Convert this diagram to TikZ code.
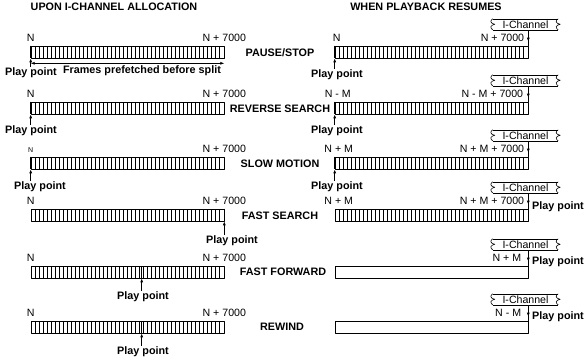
\documentclass[tikz,border=0pt]{standalone}
\usepackage{fontspec}
\setmainfont{Liberation Sans}
\usetikzlibrary{arrows.meta,calc}

\tikzset{
  lbl/.style={font=\fontsize{10.6}{12}\selectfont, inner sep=1pt},
  bold/.style={font=\bfseries\fontsize{10.8}{12}\selectfont, inner sep=1pt},
  buffer/.style={draw, line width=0.6pt, minimum width=193pt, minimum height=12pt, inner sep=0pt},
  hatched/.style={buffer, path picture={
      \foreach \i in {4,8,...,190}
        \draw[line width=0.9pt] ([xshift=\i pt]path picture bounding box.south west)
          -- ([xshift=\i pt]path picture bounding box.north west);}},
  chan/.style={lbl, minimum width=65pt, minimum height=11pt, inner sep=0pt},
  pp/.style={line width=0.8pt, -{Latex[length=4pt,width=3pt]}},
  thickedge/.style={line width=1.3pt},
}
% wavy end of an I-Channel frame, drawn downwards from the current point
\newcommand{\wavyend}{%
  to[out=-150,in=90] ++(-2pt,-3pt) to[out=-90,in=150] ++(4pt,-2.5pt)
  to[out=-150,in=90] ++(-4pt,-2.5pt) to[out=-90,in=150] ++(2pt,-3pt)}
% frame with wavy ends round an I-Channel node
\newcommand{\chanframe}[1]{%
  \draw[line width=0.6pt] (#1.south west) -- (#1.south east);
  \draw[line width=0.6pt] (#1.north west) -- (#1.north east);
  \draw[line width=0.6pt] (#1.north east) \wavyend;
  \draw[line width=0.6pt] (#1.north west) \wavyend;}

\begin{document}
\begin{tikzpicture}[x=1pt,y=-1pt,line join=round]
\useasboundingbox (0,0) rectangle (584,364);

% headings
\node[bold] (hl) at (114,7) {UPON I-CHANNEL ALLOCATION};
\node[bold] (hr) at (426,7) {WHEN PLAYBACK RESUMES};

% row 1: pause/stop
\node[hatched] (bl1) at (127.5,52) {};
\node[lbl,above=3pt] (nl1) at (bl1.north west) {N};
\node[lbl,above=3pt] (el1) at (bl1.north east) {N + 7000};
\draw[thickedge] (bl1.north west) -- (bl1.south west);
\node[bold] (ppl1) at (31,73) {Play point};
\draw[pp] (ppl1.north -| bl1.south west) -- (bl1.south west);
\coordinate (fa) at ([yshift=-5pt]bl1.south west);
\coordinate (fb) at ([yshift=-5pt]bl1.south east);
\draw[line width=0.6pt,{Latex[length=4pt,width=3pt]}-{Latex[length=4pt,width=3pt]}] (fa) -- (fb);
\node[bold] (fr1) at (142,71) {Frames prefetched before split};
\node[bold] (op1) at (280,53) {PAUSE/STOP};
\node[hatched] (br1) at (431.5,52) {};
\node[lbl,above=3pt] (nr1) at ([xshift=2pt]br1.north west) {N};
\node[lbl,anchor=south east] (er1) at ([xshift=-3pt,yshift=3pt]br1.north east) {N + 7000};
\draw[thickedge] (br1.north west) -- (br1.south west);
\node[chan] (ch1) at (525.5,24.5) {I-Channel};
\chanframe{ch1}
\draw[line width=0.8pt] (ch1.south -| br1.north east) -- (br1.north east);
\draw[pp] (ch1.south -| br1.north east) -- ([yshift=4pt]br1.north east);
\node[bold] (ppr1) at (337,75) {Play point};
\draw[pp] (ppr1.north -| br1.south west) -- (br1.south west);

% row 2: reverse search
\node[hatched] (bl2) at (127.5,108) {};
\node[lbl,above=3pt] (nl2) at (bl2.north west) {N};
\node[lbl,above=3pt] (el2) at (bl2.north east) {N + 7000};
\draw[thickedge] (bl2.north west) -- (bl2.south west);
\node[bold] (ppl2) at (31,131) {Play point};
\draw[pp] (ppl2.north -| bl2.south west) -- (bl2.south west);
\node[bold] (op2) at (280,109) {REVERSE SEARCH};
\node[hatched] (br2) at (431.5,108) {};
\node[lbl,above=3pt] (nr2) at ([xshift=3pt]br2.north west) {N - M};
\node[lbl,anchor=south east] (er2) at ([xshift=-4pt,yshift=3pt]br2.north east) {N - M + 7000};
\draw[thickedge] (br2.north west) -- (br2.south west);
\node[chan] (ch2) at (525.5,80.5) {I-Channel};
\chanframe{ch2}
\draw[line width=0.8pt] (ch2.south -| br2.north east) -- (br2.north east);
\draw[pp] (ch2.south -| br2.north east) -- ([yshift=4pt]br2.north east);
\node[bold] (ppr2) at (337,131) {Play point};
\draw[pp] (ppr2.north -| br2.south west) -- (br2.south west);

% row 3: slow motion
\node[hatched] (bl3) at (127.5,163) {};
\node[lbl,above=3pt,font=\fontsize{7}{8}\selectfont] (nl3) at (bl3.north west) {N};
\node[lbl,above=3pt] (el3) at (bl3.north east) {N + 7000};
\draw[thickedge] (bl3.north west) -- (bl3.south west);
\node[bold] (ppl3) at (40,187) {Play point};
\draw[pp] (ppl3.north -| bl3.south west) -- (bl3.south west);
\node[bold] (op3) at (280,164) {SLOW MOTION};
\node[hatched] (br3) at (431.5,163) {};
\node[lbl,above=3pt] (nr3) at ([xshift=4pt]br3.north west) {N + M};
\node[lbl,anchor=south east] (er3) at ([xshift=-3pt,yshift=3pt]br3.north east) {N + M + 7000};
\draw[thickedge] (br3.north west) -- (br3.south west);
\node[chan] (ch3) at (525.5,135.5) {I-Channel};
\chanframe{ch3}
\draw[line width=0.8pt] (ch3.south -| br3.north east) -- (br3.north east);
\draw[pp] (ch3.south -| br3.north east) -- ([yshift=4pt]br3.north east);
\node[bold] (ppr3) at (337,187) {Play point};
\draw[pp] (ppr3.north -| br3.south west) -- (br3.south west);

% row 4: fast search
\node[hatched] (bl4) at (127.5,215) {};
\node[lbl,above=3pt] (nl4) at (bl4.north west) {N};
\node[lbl,above=3pt] (el4) at (bl4.north east) {N + 7000};
\draw[thickedge] (bl4.north east) -- (bl4.south east);
\node[bold] (ppl4) at (232,241) {Play point};
\draw[pp] (ppl4.north -| bl4.south east) -- (bl4.south east);
\node[bold] (op4) at (280,216) {FAST SEARCH};
\node[hatched] (br4) at (431.5,215) {};
\node[lbl,above=3pt] (nr4) at ([xshift=4pt]br4.north west) {N + M};
\node[lbl,anchor=south east] (er4) at ([xshift=-3pt,yshift=3pt]br4.north east) {N + M + 7000};
\draw[thickedge] (br4.north east) -- (br4.south east);
\node[chan] (ch4) at (525.5,187.5) {I-Channel};
\chanframe{ch4}
\draw[line width=0.8pt] (ch4.south -| br4.north east) -- (br4.north east);
\draw[pp] (ch4.south -| br4.north east) -- ([yshift=4pt]br4.north east);
\node[bold,anchor=west] (ppr4) at (531,207) {Play point};

% row 5: fast forward
\node[hatched] (bl5) at (127.5,272) {};
\node[lbl,above=3pt] (nl5) at (bl5.north west) {N};
\node[lbl,above=3pt] (el5) at (bl5.north east) {N + 7000};
\coordinate (cut5) at ([xshift=111pt]bl5.south west);
\draw[thickedge] (cut5) -- ([xshift=111pt]bl5.north west);
\node[bold] (ppl5) at (143,297) {Play point};
\draw[pp] (ppl5.north -| cut5) -- (cut5);
\node[bold] (op5) at (283,272) {FAST FORWARD};
\node[buffer] (br5) at (431.5,272) {};
\draw[thickedge] (br5.north east) -- (br5.south east);
\node[chan] (ch5) at (525.5,244.5) {I-Channel};
\chanframe{ch5}
\node[lbl,anchor=south east] (er5) at ([xshift=-6pt,yshift=3pt]br5.north east) {N + M};
\draw[line width=0.8pt] (ch5.south -| br5.north east) -- (br5.north east);
\draw[pp] (ch5.south -| br5.north east) -- ([yshift=4pt]br5.north east);
\node[bold,anchor=west] (ppr5) at (531,262) {Play point};

% row 6: rewind
\node[hatched] (bl6) at (127.5,327) {};
\node[lbl,above=3pt] (nl6) at (bl6.north west) {N};
\node[lbl,above=3pt] (el6) at (bl6.north east) {N + 7000};
\coordinate (cut6) at ([xshift=111pt]bl6.south west);
\draw[thickedge] (cut6) -- ([xshift=111pt]bl6.north west);
\node[bold] (ppl6) at (143,352) {Play point};
\draw[pp] (ppl6.north -| cut6) -- (cut6);
\node[bold] (op6) at (282,327) {REWIND};
\node[buffer] (br6) at (431.5,327) {};
\draw[thickedge] (br6.north east) -- (br6.south east);
\node[chan] (ch6) at (525.5,299.5) {I-Channel};
\chanframe{ch6}
\node[lbl,anchor=south east] (er6) at ([xshift=-6pt,yshift=3pt]br6.north east) {N - M};
\draw[line width=0.8pt] (ch6.south -| br6.north east) -- (br6.north east);
\draw[pp] (ch6.south -| br6.north east) -- ([yshift=4pt]br6.north east);
\node[bold,anchor=west] (ppr6) at (531,317) {Play point};

\end{tikzpicture}
\end{document}
